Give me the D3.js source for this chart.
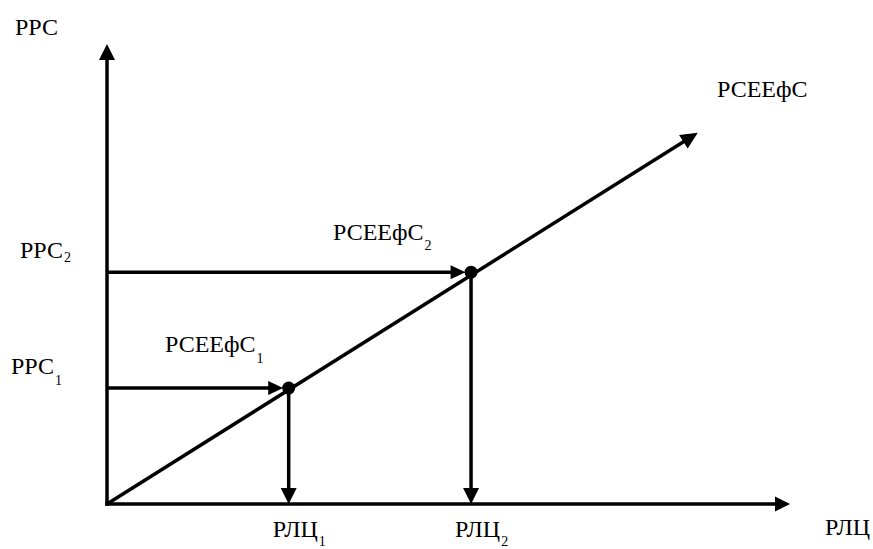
<!DOCTYPE html>
<html>
<head>
<meta charset="utf-8">
<script src="https://cdn.jsdelivr.net/npm/d3@7"></script>
<style>
  body { margin: 0; background: #fff; }
</style>
</head>
<body>
<div id="chart"></div>
<script>
// values (axis units 0..100)
const pointX = [26.6, 53.3];
const pointY = [25.2, 50.4];
const lineEnd = [86.5, 80.7];
const pointSubs = ["1", "2"];
const yAxisLabel = "РРС";
const xAxisLabel = "РЛЦ";
const lineLabel = "РСЕЕфС";

const W = 873, H = 549;
const serif = '"Liberation Serif", "DejaVu Serif", serif';
// approximate width of one glyph in the reference, in em
const emPerChar = 0.62;

let svg = d3.select("#chart").append("svg")
    .attr("width", W)
    .attr("height", H);

svg.append("rect").attr("width", W).attr("height", H).attr("fill", "#fff");

let x = d3.scaleLinear().domain([0, 100]).range([107, 790]);
let y = d3.scaleLinear().domain([0, 100]).range([504, 44]);

let g = svg.append("g");
const sw = 3.5;

// arrow head polygon, tip at (x2,y2)
function arrowHead(x1, y1, x2, y2, len = 16, half = 8) {
    let a = Math.atan2(y2 - y1, x2 - x1);
    let bx = x2 - len * Math.cos(a), by = y2 - len * Math.sin(a);
    let px = -Math.sin(a) * half, py = Math.cos(a) * half;
    g.append("path")
        .attr("d", `M${x2},${y2}L${bx + px},${by + py}L${bx - px},${by - py}Z`)
        .attr("fill", "#000");
}

function arrow(x1, y1, x2, y2, len = 16, half = 8) {
    let a = Math.atan2(y2 - y1, x2 - x1);
    g.append("line")
        .attr("x1", x1).attr("y1", y1)
        .attr("x2", x2 - (len - 2) * Math.cos(a)).attr("y2", y2 - (len - 2) * Math.sin(a))
        .attr("stroke", "#000").attr("stroke-width", sw);
    arrowHead(x1, y1, x2, y2, len, half);
}

// axes
arrow(x(0) - sw / 2, y(0), x(100), y(0), 15, 7.5);
arrow(x(0), y(0) + sw / 2, x(0), y(100), 16, 8);

// diagonal line
arrow(x(0), y(0), x(lineEnd[0]), y(lineEnd[1]), 17, 8);

// projections
const r = 6.5;
pointX.forEach((px, i) => {
    let cx = x(px), cy = y(pointY[i]);
    arrow(x(0), cy, cx - r + 1, cy, 15, 7);
    arrow(cx, cy, cx, y(0), 16, 8);
});

g.selectAll(".pt").data(pointX).enter().append("circle")
    .attr("class", "pt")
    .attr("cx", d => x(d))
    .attr("cy", (d, i) => y(pointY[i]))
    .attr("r", r)
    .attr("fill", "#000");

// labels: main text plus a separate lowered subscript
function label(tx, ty, main, sub, subDy) {
    let t = svg.append("text")
        .attr("x", tx).attr("y", ty)
        .style("font-family", serif)
        .attr("font-size", 24)
        .attr("fill", "#000")
        .text(main);
    let w = t.node().getComputedTextLength();
    let target = main.length * emPerChar * 24;
    if (w > target * 1.05) {
        t.attr("textLength", target).attr("lengthAdjust", "spacingAndGlyphs");
        w = target;
    }
    if (sub) {
        svg.append("text")
            .attr("x", tx + w + 1).attr("y", ty + subDy)
            .style("font-family", serif)
            .attr("font-size", 14)
            .attr("fill", "#000")
            .text(sub);
    }
}

label(15, 35, yAxisLabel);
label(825, 535, xAxisLabel);
label(717, 97, lineLabel);

// y-axis sublabels
label(20, 258, yAxisLabel, pointSubs[1], 4);
label(11, 374, yAxisLabel, pointSubs[0], 11);

// x-axis sublabels
pointX.forEach((px, i) => {
    label(x(px) - 16, 537, xAxisLabel, pointSubs[i], 9);
});

// point labels
label(165, 352, lineLabel, pointSubs[0], 11);
label(333, 240, lineLabel, pointSubs[1], 10);
</script>
</body>
</html>
